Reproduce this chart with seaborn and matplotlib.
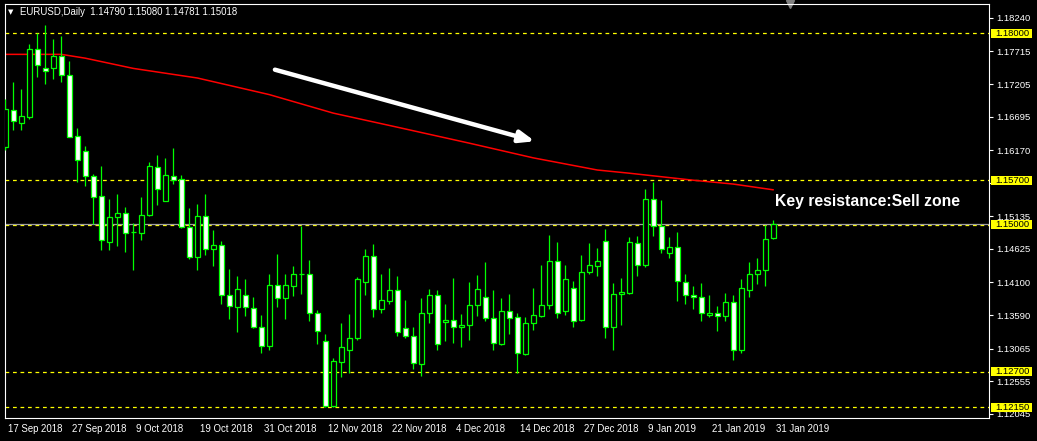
import pandas as pd
import seaborn as sns
import matplotlib.pyplot as plt
import matplotlib.transforms as mtransforms
from matplotlib.patches import Rectangle
import numpy as np

# EURUSD daily candles, 17 Sep 2018 .. 31 Jan 2019 (no bars on 25 Dec / 1 Jan)
dates = pd.bdate_range('2018-09-17', '2019-01-31')
dates = dates[~dates.isin(pd.to_datetime(['2018-12-25', '2019-01-01']))]

opens = [1.1622, 1.1680, 1.1660, 1.1669, 1.1775, 1.1745, 1.1745, 1.1764, 1.1735, 1.1639,
         1.1615, 1.1577, 1.1545, 1.1474, 1.1512, 1.1518, 1.1489, 1.1488, 1.1515, 1.1590,
         1.1538, 1.1576, 1.1572, 1.1497, 1.1450, 1.1514, 1.1462, 1.1468, 1.1390, 1.1371,
         1.1390, 1.1370, 1.1341, 1.1310, 1.1406, 1.1385, 1.1404, 1.1424, 1.1424, 1.1362,
         1.1318, 1.1216, 1.1286, 1.1304, 1.1323, 1.1410, 1.1451, 1.1368, 1.1381, 1.1398,
         1.1338, 1.1326, 1.1283, 1.1363, 1.1390, 1.1348, 1.1351, 1.1340, 1.1343, 1.1374,
         1.1388, 1.1354, 1.1313, 1.1366, 1.1356, 1.1298, 1.1346, 1.1357, 1.1374, 1.1443,
         1.1366, 1.1401, 1.1351, 1.1426, 1.1435, 1.1475, 1.1341, 1.1392, 1.1393, 1.1471,
         1.1438, 1.1540, 1.1498, 1.1456, 1.1465, 1.1410, 1.1390, 1.1387, 1.1359, 1.1363,
         1.1357, 1.1379, 1.1304, 1.1398, 1.1424, 1.1429, 1.14790]
highs = [1.1697, 1.1723, 1.1713, 1.1783, 1.1800, 1.1813, 1.1791, 1.1796, 1.1756, 1.1651,
         1.1624, 1.1579, 1.1592, 1.1541, 1.1549, 1.1528, 1.1503, 1.1544, 1.1598, 1.1610,
         1.1605, 1.1621, 1.1578, 1.1526, 1.1533, 1.1548, 1.1492, 1.1475, 1.1431, 1.1420,
         1.1415, 1.1387, 1.1359, 1.1423, 1.1455, 1.1423, 1.1436, 1.1498, 1.1445, 1.1367,
         1.1329, 1.1292, 1.1347, 1.1361, 1.1418, 1.1462, 1.1470, 1.1423, 1.1432, 1.1420,
         1.1382, 1.1341, 1.1385, 1.1399, 1.1398, 1.1377, 1.1417, 1.1360, 1.1410, 1.1421,
         1.1442, 1.1398, 1.1385, 1.1392, 1.1363, 1.1356, 1.1401, 1.1437, 1.1484, 1.1473,
         1.1437, 1.1412, 1.1453, 1.1471, 1.1464, 1.1494, 1.1409, 1.1417, 1.1481, 1.1482,
         1.1556, 1.1567, 1.1539, 1.1481, 1.1489, 1.1423, 1.1404, 1.1409, 1.1390, 1.1373,
         1.1393, 1.1390, 1.1415, 1.1442, 1.1448, 1.1500, 1.15080]
lows = [1.1617, 1.1649, 1.1648, 1.1666, 1.1731, 1.1721, 1.1728, 1.1723, 1.1637, 1.1568,
        1.1561, 1.1502, 1.1461, 1.1461, 1.1467, 1.1458, 1.1430, 1.1477, 1.1514, 1.1531,
        1.1537, 1.1564, 1.1495, 1.1447, 1.1430, 1.1453, 1.1436, 1.1376, 1.1353, 1.1333,
        1.1358, 1.1338, 1.1300, 1.1304, 1.1371, 1.1353, 1.1389, 1.1392, 1.1349, 1.1314,
        1.1215, 1.1215, 1.1262, 1.1268, 1.1320, 1.1390, 1.1356, 1.1363, 1.1377, 1.1326,
        1.1323, 1.1275, 1.1264, 1.1346, 1.1304, 1.1318, 1.1316, 1.1309, 1.1320, 1.1358,
        1.1349, 1.1304, 1.1312, 1.1329, 1.1268, 1.1297, 1.1335, 1.1356, 1.1368, 1.1354,
        1.1359, 1.1341, 1.1349, 1.1424, 1.1420, 1.1323, 1.1304, 1.1344, 1.1392, 1.1420,
        1.1434, 1.1482, 1.1456, 1.1449, 1.1381, 1.1376, 1.1368, 1.1349, 1.1356, 1.1334,
        1.1349, 1.1288, 1.1299, 1.1388, 1.1407, 1.1404, 1.14781]
closes = [1.1682, 1.1662, 1.1671, 1.1775, 1.1750, 1.1741, 1.1764, 1.1734, 1.1638, 1.1601,
          1.1576, 1.1544, 1.1476, 1.1512, 1.1518, 1.1488, 1.1489, 1.1515, 1.1592, 1.1556,
          1.1578, 1.1571, 1.1497, 1.1450, 1.1514, 1.1462, 1.1468, 1.1390, 1.1373, 1.1399,
          1.1371, 1.1341, 1.1310, 1.1406, 1.1386, 1.1406, 1.1424, 1.1424, 1.1362, 1.1334,
          1.1216, 1.1287, 1.1309, 1.1323, 1.1415, 1.1451, 1.1368, 1.1382, 1.1398, 1.1332,
          1.1326, 1.1284, 1.1363, 1.1390, 1.1313, 1.1351, 1.1340, 1.1343, 1.1374, 1.1399,
          1.1354, 1.1315, 1.1366, 1.1354, 1.1299, 1.1346, 1.1359, 1.1374, 1.1443, 1.1363,
          1.1415, 1.1349, 1.1426, 1.1438, 1.1443, 1.1341, 1.1392, 1.1395, 1.1473, 1.1438,
          1.1540, 1.1498, 1.1462, 1.1465, 1.1412, 1.1390, 1.1387, 1.1362, 1.1363, 1.1357,
          1.1379, 1.1304, 1.1402, 1.1424, 1.1429, 1.1478, 1.15018]

# red moving average, read at a few bars
ma_bar = [0, 7, 10, 16, 24, 33, 41, 49, 58, 66, 74, 78, 86, 91, 96]
ma_val = [1.1767, 1.1767, 1.1761, 1.1745, 1.1730, 1.1704, 1.1675, 1.1653, 1.1628, 1.1605,
          1.1586, 1.1581, 1.1570, 1.1564, 1.1555]

levels = [1.18000, 1.15700, 1.15000, 1.12700, 1.12150]
# 1.15655 sits under the 1.15700 box in the original, so only its tick is kept
price_ticks = [1.18240, 1.17715, 1.17205, 1.16695, 1.16170, 1.15655, 1.15135,
               1.14625, 1.14100, 1.13590, 1.13065, 1.12555, 1.12045]
date_tick_bars = list(range(0, 97, 8))
header = 'EURUSD,Daily  1.14790 1.15080 1.14781 1.15018'
note = 'Key resistance:Sell zone'
arrow_from = (33.7, 1.1743)
arrow_to = (66.2, 1.1631)

sns.set_style('dark', {'axes.facecolor': 'black', 'figure.facecolor': 'black'})
plt.rcParams['font.family'] = ['Liberation Sans', 'DejaVu Sans']

df = pd.DataFrame({'date': dates, 'open': opens, 'high': highs, 'low': lows, 'close': closes})
df['bar'] = np.arange(len(df))

fig = plt.figure(figsize=(10.37, 4.41), dpi=100)
fig.patch.set_facecolor('black')
ax = fig.add_axes([5 / 1037, 23 / 441, 984 / 1037, 414 / 441])
ax.set_facecolor('black')

green = '#00ff00'
# wicks, then bodies on top
ax.vlines(df['bar'], df['low'], df['high'], color=green, lw=0.9, zorder=3)
fill = ['white' if c < o else 'black' for o, c in zip(df['open'], df['close'])]
ax.bar(df['bar'], df['close'] - df['open'], bottom=df['open'], width=0.56,
       color=fill, edgecolor=green, linewidth=0.9, zorder=4)

sns.lineplot(x=ma_bar, y=ma_val, color='#ff0000', lw=1.1, ax=ax, zorder=2)

for lv in levels:
    ax.axhline(lv, color='#ffff00', lw=0.9, ls=(0, (3, 3)), zorder=1)
ax.axhline(closes[-1], color='#a0a0a0', lw=0.9, zorder=1)

ax.annotate('', xy=arrow_to, xytext=arrow_from,
            arrowprops=dict(arrowstyle='-|>,head_length=0.9,head_width=0.35',
                            color='white', lw=3.2, shrinkA=0, shrinkB=0), zorder=6)
ax.text(96.2, 1.1536, note, color='white', fontsize=11.3, fontweight='bold',
        ha='left', va='center', zorder=6)

ax.set_xlim(-0.04, 122.96)
ax.set_ylim(1.11979, 1.18458)

# right price scale
ax.yaxis.tick_right()
ax.set_yticks(price_ticks)
ax.set_yticklabels(['' if p == 1.15655 else f'{p:.5f}' for p in price_ticks])
ax.tick_params(axis='y', colors='white', labelsize=6.8, length=3, width=0.8, pad=2)
ax.set_ylabel('')

ax.set_xticks(date_tick_bars)
ax.set_xticklabels([f'{d.day} {d:%b %Y}' for d in df['date'].iloc[date_tick_bars]], ha='left')
ax.tick_params(axis='x', colors='white', labelsize=6.9, length=4, width=0.8, pad=0.5)
shift = mtransforms.ScaledTranslation(2 / 72, 0, fig.dpi_scale_trans)
for lbl in ax.get_xticklabels():
    lbl.set_transform(lbl.get_transform() + shift)
ax.set_xlabel('')
ax.grid(False)

for s in ax.spines.values():
    s.set_color('white')
    s.set_linewidth(0.8)

# yellow price boxes for the horizontal levels
trans = mtransforms.blended_transform_factory(ax.transAxes, ax.transData)
for lv in levels:
    ax.add_patch(Rectangle((1.002, lv - 0.0007), 0.0415, 0.0014, transform=trans,
                           facecolor='#ffff00', edgecolor='none', clip_on=False, zorder=7))
    ax.text(1.0065, lv, f'{lv:.5f}', transform=trans, color='black', fontsize=6.8,
            ha='left', va='center', clip_on=False, zorder=8)

# header line and chart-shift marker
fig.text(8 / 1037, 1 - 12 / 441, '\u25bc', color='white', fontsize=5, va='center',
         family='DejaVu Sans')
fig.text(20 / 1037, 1 - 12 / 441, header, color='white', fontsize=6.9, va='center')
ax.plot([0.798], [1.0], marker='v', color='#808080', markersize=6,
        transform=ax.transAxes, clip_on=False)

fig.savefig('out.png', dpi=100, facecolor='black')
